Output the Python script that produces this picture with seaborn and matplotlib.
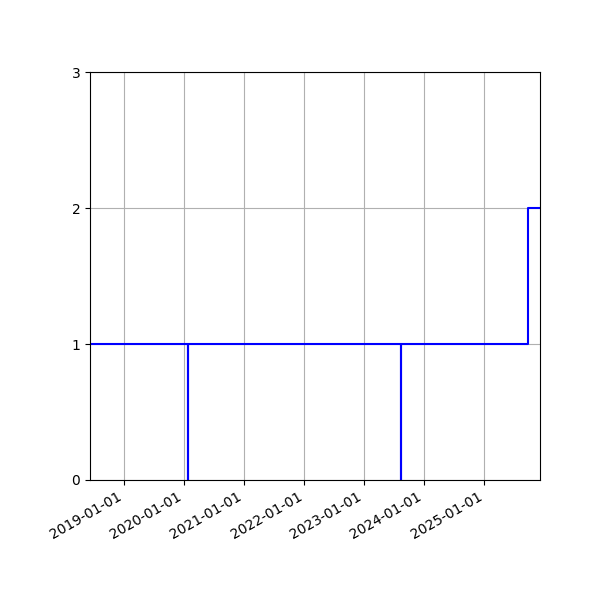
import pandas as pd
import matplotlib
matplotlib.use('Agg')
import matplotlib.pyplot as plt
import matplotlib.dates as mdates
import seaborn as sns

# step points (value holds until the next date)
dates = ['2018-06-06', '2020-01-21', '2020-01-22', '2023-08-10',
         '2023-08-11', '2025-09-26', '2025-12-06']
values = [1, 0, 1, 0, 1, 2, 2]

df = pd.DataFrame({'date': pd.to_datetime(dates), 'value': values})

fig, ax = plt.subplots(figsize=(6, 6), dpi=100)
sns.lineplot(data=df, x='date', y='value', drawstyle='steps-post',
             color='blue', linewidth=1.5, ax=ax)

ax.set_xlim(df['date'].min(), df['date'].max())
ax.set_ylim(0, 3)
ax.set_yticks([0, 1, 2, 3])
ax.xaxis.set_major_locator(mdates.YearLocator())
ax.xaxis.set_major_formatter(mdates.DateFormatter('%Y-%m-%d'))
ax.set_xlabel('')
ax.set_ylabel('')
ax.grid(True)
fig.autofmt_xdate()
fig.subplots_adjust(left=0.15, right=0.9, top=0.88, bottom=0.2)

fig.savefig('out.png')
